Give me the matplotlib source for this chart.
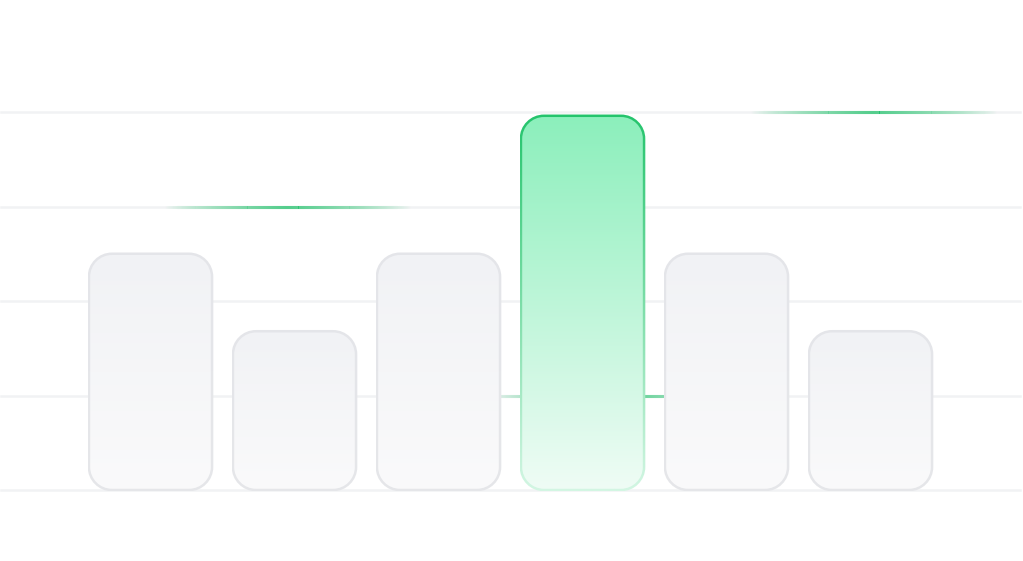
import numpy as np
import matplotlib
matplotlib.use("Agg")
import matplotlib.pyplot as plt
from matplotlib.path import Path
from matplotlib.patches import PathPatch
from matplotlib.colors import LinearSegmentedColormap, to_rgb
from matplotlib.collections import LineCollection

############################## Data ##############################
categories = ["A", "B", "C", "D", "E", "F"]
values = [62.5, 42, 62.5, 99, 62.5, 42]
highlight = 3                      # index of the green bar
grid_ticks = [0, 25, 50, 75, 100]
glow_x = [0.95, 5.02, 3.2]         # centre of the fading green lines
glow_y = [75, 100, 25]

############################## Layout ############################
PX_X = 144.0    # pixels per category step
PX_Y = 3.78     # pixels per value unit
bar_w = 0.855
radius_px = 23
border_px = 2.5

gray_fill = ("#f1f2f5", "#fafafb")
gray_edge = ("#e4e5e9", "#e6e7ea")
green_fill = ("#8cefbc", "#effcf5")
green_edge = ("#24c46c", "#d3f6e3")
grid_color = "#f1f2f4"
glow_color = "#20c16a"

fig = plt.figure(figsize=(10.23, 5.61), dpi=100)
ax = fig.add_axes([0, 0, 1, 1])
ax.axis("off")
xlim = (-150.5 / PX_X, (1023 - 150.5) / PX_X)
ylim = (-71 / PX_Y, 490 / PX_Y)


def rounded(x0, y0, x1, y1, r_px):
    # rounded rectangle with true circular corners (in pixels)
    rx, ry = r_px / PX_X, r_px / PX_Y
    k = 0.5523
    v = [(x0 + rx, y0), (x1 - rx, y0),
         (x1 - rx + k * rx, y0), (x1, y0 + ry - k * ry), (x1, y0 + ry),
         (x1, y1 - ry),
         (x1, y1 - ry + k * ry), (x1 - rx + k * rx, y1), (x1 - rx, y1),
         (x0 + rx, y1),
         (x0 + rx - k * rx, y1), (x0, y1 - ry + k * ry), (x0, y1 - ry),
         (x0, y0 + ry),
         (x0, y0 + ry - k * ry), (x0 + rx - k * rx, y0), (x0 + rx, y0),
         (x0 + rx, y0)]
    c = [Path.MOVETO, Path.LINETO,
         Path.CURVE4, Path.CURVE4, Path.CURVE4,
         Path.LINETO,
         Path.CURVE4, Path.CURVE4, Path.CURVE4,
         Path.LINETO,
         Path.CURVE4, Path.CURVE4, Path.CURVE4,
         Path.LINETO,
         Path.CURVE4, Path.CURVE4, Path.CURVE4,
         Path.CLOSEPOLY]
    p = PathPatch(Path(v, c), facecolor="none", edgecolor="none")
    ax.add_patch(p)
    return p


def gradient_rect(patch, x0, x1, y0, y1, colors, z):
    cmap = LinearSegmentedColormap.from_list("g", [colors[1], colors[0]])
    grad = np.linspace(1, 0, 256).reshape(-1, 1)
    im = ax.imshow(grad, extent=[x0, x1, y0, y1], aspect="auto",
                   cmap=cmap, vmin=0, vmax=1, zorder=z, interpolation="bilinear")
    im.set_clip_path(patch)


# grid
for t in grid_ticks:
    ax.axhline(t, xmin=1 / 1023, xmax=1020 / 1023, color=grid_color, lw=1.8, zorder=1)

# fading green lines
for cx, cy in zip(glow_x, glow_y):
    xs = np.linspace(cx - 0.85, cx + 0.85, 241)
    segs = [[(xs[i], cy), (xs[i + 1], cy)] for i in range(len(xs) - 1)]
    mid = (xs[:-1] + xs[1:]) / 2
    a = np.clip(1 - np.abs(mid - cx) / 0.85, 0, 1) ** 0.9
    rgb = to_rgb(glow_color)
    cols = [(rgb[0], rgb[1], rgb[2], v) for v in a]
    ax.add_collection(LineCollection(segs, colors=cols, linewidths=2.2,
                                     capstyle="butt", zorder=2))

# bars
hb = border_px / 2
for i, v in enumerate(values):
    fill, edge = (green_fill, green_edge) if i == highlight else (gray_fill, gray_edge)
    x0 = i - bar_w / 2
    # outer shape carries the border colour
    ox0, ox1 = x0 - hb / PX_X, x0 + bar_w + hb / PX_X
    oy0, oy1 = -hb / PX_Y, v + hb / PX_Y
    outer = rounded(ox0, oy0, ox1, oy1, radius_px + hb)
    gradient_rect(outer, ox0, ox1, oy0, oy1, edge, 3)
    # inner shape carries the fill
    ix0, ix1 = x0 + hb / PX_X, x0 + bar_w - hb / PX_X
    iy0, iy1 = hb / PX_Y, v - hb / PX_Y
    inner = rounded(ix0, iy0, ix1, iy1, radius_px - hb)
    gradient_rect(inner, ix0, ix1, iy0, iy1, fill, 4)

ax.set_xlim(*xlim)
ax.set_ylim(*ylim)
fig.savefig("out.png", dpi=100, facecolor="white")
